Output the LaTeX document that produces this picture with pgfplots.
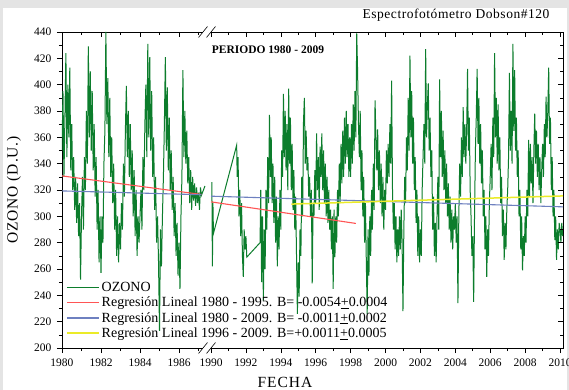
\documentclass[border=0pt]{standalone}
\usepackage{fontspec}
\setmainfont{Liberation Serif}
\usepackage{pgfplots}
\pgfplotsset{compat=1.18}

\definecolor{ozgreen}{RGB}{12,125,44}
\definecolor{regred}{RGB}{255,85,85}
\definecolor{regblue}{RGB}{110,128,192}
\definecolor{regyellow}{RGB}{235,235,40}
\definecolor{bggray}{RGB}{228,228,228}

% x axis is broken between 1987 and 1990: years are mapped to pt along the axis
\pgfplotsset{
  brokenx/.style={
    scale only axis, width=501pt, height=316pt,
    xmin=1980, xmax=2010.17, ymin=200, ymax=440,
    x coord trafo/.code={\pgfmathparse{##1<1988.5 ? (##1-1980)*19.5 : 149+(##1-1990)*17.45}},
    xtick={1980,1982,1984,1986,1990,1992,1994,1996,1998,2000,2002,2004,2006,2008,2010},
    minor xtick={1981,1983,1985,1987,1991,1993,1995,1997,1999,2001,2003,2005,2007,2009},
    ytick={200,220,...,440}, minor ytick={210,230,...,430},
    major tick length=5pt, minor tick length=3pt,
    tick style={black, line width=0.6pt},
  }
}

\begin{document}
\begin{tikzpicture}
\path[use as bounding box] (-62pt,-42pt) rectangle (507pt,348pt);
\fill[bggray] (-62pt,-42pt) rectangle (507pt,348pt);
\fill[white] (-59pt,-42pt) rectangle (505pt,340pt);

\begin{axis}[brokenx,
  xtick pos=left, ytick pos=left, tick align=outside,
  xticklabels={1980,1982,1984,1986,1990,1992,1994,1996,1998,2000,2002,2004,2006,2008,2010},
  axis line style={black, line width=0.7pt},
  ticklabel style={font=\fontsize{11.5}{13}\selectfont},
  xticklabel style={yshift=-2pt},
  yticklabel style={xshift=-2pt},
  /pgf/number format/assume math mode=true,
  unbounded coords=jump,
  xlabel={FECHA}, ylabel={OZONO (D.U.)},
  label style={font=\fontsize{15.5}{18}\selectfont\addfontfeatures{LetterSpace=6}},
  xlabel style={at={(axis description cs:0.445,-0.108)}, anchor=center},
  ylabel style={at={(axis description cs:-0.096,0.5)}, anchor=center},
  legend style={at={(axis description cs:0.008,0.022)}, anchor=south west,
    draw=none, fill=none, font=\fontsize{14}{16.7}\selectfont,
    inner sep=0pt, row sep=0pt},
  legend cell align=left,
  legend image code/.code={\draw[#1] (0pt,0pt) -- (32pt,0pt);},
]
\addplot[ozgreen, line width=1.0pt] coordinates {
(1980.00,350) (1980.05,395) (1980.10,330) (1980.15,375) (1980.20,424) (1980.25,345) (1980.30,400) (1980.35,360) (1980.40,413) (1980.45,335) (1980.50,370) (1980.55,320) (1980.60,345) (1980.65,305) (1980.70,330) (1980.75,295) (1980.80,325) (1980.85,285) (1980.90,310) (1980.95,252)
(1981.00,300) (1981.05,330) (1981.10,290) (1981.15,345) (1981.20,320) (1981.25,380) (1981.30,340) (1981.35,429) (1981.40,360) (1981.45,410) (1981.50,350) (1981.55,395) (1981.60,335) (1981.65,370) (1981.70,315) (1981.75,345) (1981.80,290) (1981.85,320) (1981.90,265) (1981.95,300)
(1982.00,257) (1982.05,300) (1982.10,280) (1982.15,340) (1982.20,365) (1982.25,440) (1982.30,370) (1982.35,405) (1982.40,345) (1982.45,390) (1982.50,330) (1982.55,360) (1982.60,310) (1982.65,340) (1982.70,290) (1982.75,320) (1982.80,270) (1982.85,300) (1982.90,265) (1982.95,295)
(1983.00,275) (1983.05,310) (1983.10,290) (1983.15,340) (1983.20,315) (1983.25,365) (1983.30,399) (1983.35,345) (1983.40,380) (1983.45,330) (1983.50,370) (1983.55,320) (1983.60,350) (1983.65,300) (1983.70,335) (1983.75,285) (1983.80,320) (1983.85,270) (1983.90,300) (1983.95,280)
(1984.00,300) (1984.05,320) (1984.10,290) (1984.15,345) (1984.20,320) (1984.25,370) (1984.30,400) (1984.35,345) (1984.40,431) (1984.45,360) (1984.50,421) (1984.55,350) (1984.60,395) (1984.65,330) (1984.70,360) (1984.75,305) (1984.80,330) (1984.85,280) (1984.90,300) (1984.95,265)
(1985.00,213) (1985.05,290) (1985.10,262) (1985.15,300) (1985.20,330) (1985.25,370) (1985.30,421) (1985.35,350) (1985.40,398) (1985.45,335) (1985.50,375) (1985.55,320) (1985.60,350) (1985.65,305) (1985.70,330) (1985.75,285) (1985.80,310) (1985.85,270) (1985.90,295) (1985.95,255)
(1986.00,280) (1986.05,245) (1986.10,300) (1986.15,330) (1986.20,411) (1986.25,345) (1986.30,380) (1986.35,340) (1986.40,365) (1986.45,325) (1986.50,345) (1986.55,310) (1986.60,335) (1986.65,305) (1986.70,330) (1986.75,312) (1986.80,325) (1986.85,308) (1986.90,322) (1986.95,310)
(1987.00,318) (1987.05,305) (1987.10,322) (1987.15,316) (1987.33,323)
(1988.00,nan)
(1990.05,326) (1990.08,262) (1990.11,310) (1990.14,287) (1991.47,354) (1991.50,330) (1991.55,345) (1991.60,300) (1991.65,320) (1991.70,285) (1991.75,310) (1991.80,270) (1991.85,254) (1991.90,290) (1991.95,275)
(1992.00,285) (1992.05,269) (1992.81,280) (1992.85,320) (1992.90,250) (1992.95,300)
(1993.00,236) (1993.05,290) (1993.10,260) (1993.15,320) (1993.20,290) (1993.25,345) (1993.30,310) (1993.35,377) (1993.40,330) (1993.45,360) (1993.50,310) (1993.55,340) (1993.60,295) (1993.65,330) (1993.70,280) (1993.75,315) (1993.80,262) (1993.85,300) (1993.90,275) (1993.95,320)
(1994.00,290) (1994.05,350) (1994.10,330) (1994.15,393) (1994.20,345) (1994.25,380) (1994.30,335) (1994.35,370) (1994.40,320) (1994.45,397) (1994.50,340) (1994.55,375) (1994.60,320) (1994.65,355) (1994.70,305) (1994.75,335) (1994.80,290) (1994.85,315) (1994.90,270) (1994.95,226)
(1995.00,265) (1995.05,239) (1995.10,290) (1995.15,270) (1995.20,330) (1995.25,300) (1995.30,372) (1995.35,390) (1995.40,340) (1995.45,365) (1995.50,335) (1995.55,345) (1995.60,315) (1995.65,330) (1995.70,300) (1995.75,320) (1995.80,249) (1995.85,310) (1995.90,300) (1995.95,335)
(1996.00,310) (1996.05,363) (1996.10,320) (1996.15,345) (1996.20,305) (1996.25,353) (1996.30,330) (1996.35,363) (1996.40,320) (1996.45,350) (1996.50,310) (1996.55,340) (1996.60,300) (1996.65,330) (1996.70,295) (1996.75,320) (1996.80,290) (1996.85,305) (1996.90,275) (1996.95,300)
(1997.00,245) (1997.05,305) (1997.10,269) (1997.15,300) (1997.20,280) (1997.25,320) (1997.30,300) (1997.35,340) (1997.40,310) (1997.45,355) (1997.50,325) (1997.55,365) (1997.60,330) (1997.65,375) (1997.70,340) (1997.75,380) (1997.80,345) (1997.85,370) (1997.90,330) (1997.95,360)
(1998.00,330) (1998.05,370) (1998.10,340) (1998.15,385) (1998.20,350) (1998.25,395) (1998.30,360) (1998.35,439) (1998.40,410) (1998.45,370) (1998.50,345) (1998.55,380) (1998.60,320) (1998.65,350) (1998.70,300) (1998.75,330) (1998.80,280) (1998.85,310) (1998.90,265) (1998.95,226)
(1999.00,290) (1999.05,255) (1999.10,300) (1999.15,270) (1999.20,320) (1999.25,290) (1999.30,340) (1999.35,305) (1999.40,388) (1999.45,360) (1999.50,335) (1999.55,366) (1999.60,320) (1999.65,350) (1999.70,310) (1999.75,340) (1999.80,300) (1999.85,330) (1999.90,290) (1999.95,320)
(2000.00,305) (2000.05,350) (2000.10,325) (2000.15,355) (2000.20,330) (2000.25,370) (2000.30,340) (2000.35,403) (2000.40,320) (2000.45,290) (2000.50,310) (2000.55,275) (2000.60,300) (2000.65,265) (2000.70,290) (2000.75,270) (2000.80,300) (2000.85,275) (2000.90,305) (2000.95,280)
(2001.00,228) (2001.05,290) (2001.10,330) (2001.15,310) (2001.20,360) (2001.25,335) (2001.30,390) (2001.35,350) (2001.40,422) (2001.45,360) (2001.50,395) (2001.55,340) (2001.60,375) (2001.65,320) (2001.70,345) (2001.75,295) (2001.80,320) (2001.85,270) (2001.90,300) (2001.95,265)
(2002.00,290) (2002.05,270) (2002.10,320) (2002.15,345) (2002.20,370) (2002.25,340) (2002.30,427) (2002.35,360) (2002.40,385) (2002.45,401) (2002.50,350) (2002.55,375) (2002.60,330) (2002.65,350) (2002.70,290) (2002.75,315) (2002.80,270) (2002.85,295) (2002.90,265) (2002.95,300)
(2003.00,330) (2003.05,290) (2003.10,404) (2003.15,345) (2003.20,380) (2003.25,330) (2003.30,365) (2003.35,320) (2003.40,350) (2003.45,310) (2003.50,340) (2003.55,300) (2003.60,325) (2003.65,290) (2003.70,315) (2003.75,280) (2003.80,305) (2003.85,275) (2003.90,300) (2003.95,290)
(2004.00,310) (2004.05,280) (2004.10,300) (2004.15,234) (2004.20,300) (2004.25,340) (2004.30,315) (2004.35,360) (2004.40,330) (2004.45,383) (2004.50,345) (2004.55,370) (2004.60,340) (2004.65,366) (2004.70,412) (2004.75,350) (2004.80,375) (2004.85,320) (2004.90,300) (2004.95,270)
(2005.00,285) (2005.05,235) (2005.10,300) (2005.15,350) (2005.20,375) (2005.25,412) (2005.30,355) (2005.35,390) (2005.40,340) (2005.45,370) (2005.50,325) (2005.55,350) (2005.60,300) (2005.65,320) (2005.70,275) (2005.75,300) (2005.80,254) (2005.85,290) (2005.90,270) (2005.95,310)
(2006.00,330) (2006.05,355) (2006.10,320) (2006.15,375) (2006.20,345) (2006.25,424) (2006.30,360) (2006.35,390) (2006.40,340) (2006.45,385) (2006.50,335) (2006.55,360) (2006.60,310) (2006.65,330) (2006.70,285) (2006.75,305) (2006.80,267) (2006.85,295) (2006.90,275) (2006.95,305)
(2007.00,320) (2007.05,345) (2007.10,409) (2007.15,350) (2007.20,380) (2007.25,340) (2007.30,431) (2007.35,365) (2007.40,411) (2007.45,350) (2007.50,375) (2007.55,330) (2007.60,350) (2007.65,300) (2007.70,320) (2007.75,275) (2007.80,300) (2007.85,259) (2007.90,285) (2007.95,270)
(2008.00,300) (2008.05,280) (2008.10,320) (2008.15,300) (2008.20,358) (2008.25,315) (2008.30,355) (2008.35,325) (2008.40,345) (2008.45,310) (2008.50,350) (2008.55,378) (2008.60,340) (2008.65,365) (2008.70,330) (2008.75,355) (2008.80,320) (2008.85,345) (2008.90,310) (2008.95,335)
(2009.00,355) (2009.05,330) (2009.10,370) (2009.15,345) (2009.20,391) (2009.25,360) (2009.30,380) (2009.35,413) (2009.40,355) (2009.45,375) (2009.50,320) (2009.55,345) (2009.60,300) (2009.65,320) (2009.70,282) (2009.75,300) (2009.80,267) (2009.85,290) (2009.90,275) (2009.95,295)
(2010.00,290) (2010.05,280) (2010.10,295) (2010.15,285)
};
\addlegendentry{OZONO}
\addplot[regred, line width=1.1pt] coordinates {(1980,330.7) (1987.15,316.6) (1988,nan) (1990,311.0) (1998.3,294.6)};
\addlegendentry{Regresión Lineal 1980 - 1995. B= -0.0054\underline{+}0.0004}
\addplot[regblue, line width=1.1pt] coordinates {(1980,319.3) (1987.15,316.4) (1988,nan) (1990,315.3) (2010.17,307.2)};
\addlegendentry{Regresión Lineal 1980 - 2009. B= -0.0011\underline{+}0.0002}
\addplot[regyellow, line width=1.5pt] coordinates {(1994.6,309.3) (2010.17,315.5)};
\addlegendentry{Regresión Lineal 1996 - 2009. B=+0.0011\underline{+}0.0005}
\end{axis}

% mirrored ticks on top and right, pointing inwards
\begin{axis}[brokenx,
  xtick pos=right, ytick pos=right, tick align=inside,
  xticklabels={}, yticklabels={},
  axis line style={draw=none},
]
\addplot[draw=none] coordinates {(1980,300)};
\end{axis}

% axis break marks
\foreach \yy in {0,316} {
  \fill[white] (141pt,\yy pt-1.6pt) rectangle (149pt,\yy pt+1.6pt);
  \draw[black, line width=0.6pt] (136.5pt,\yy pt-5.5pt) -- (145.5pt,\yy pt+5.5pt);
  \draw[black, line width=0.6pt] (144.5pt,\yy pt-5.5pt) -- (153.5pt,\yy pt+5.5pt);
}

\node[font=\fontsize{13.5}{15}\selectfont\addfontfeatures{LetterSpace=4}] at (394pt,333pt) {Espectrofotómetro Dobson\#120};
\node[font=\fontsize{11.5}{13}\selectfont\bfseries] at (206pt,298pt) {PERIODO 1980 - 2009};
\end{tikzpicture}
\end{document}
